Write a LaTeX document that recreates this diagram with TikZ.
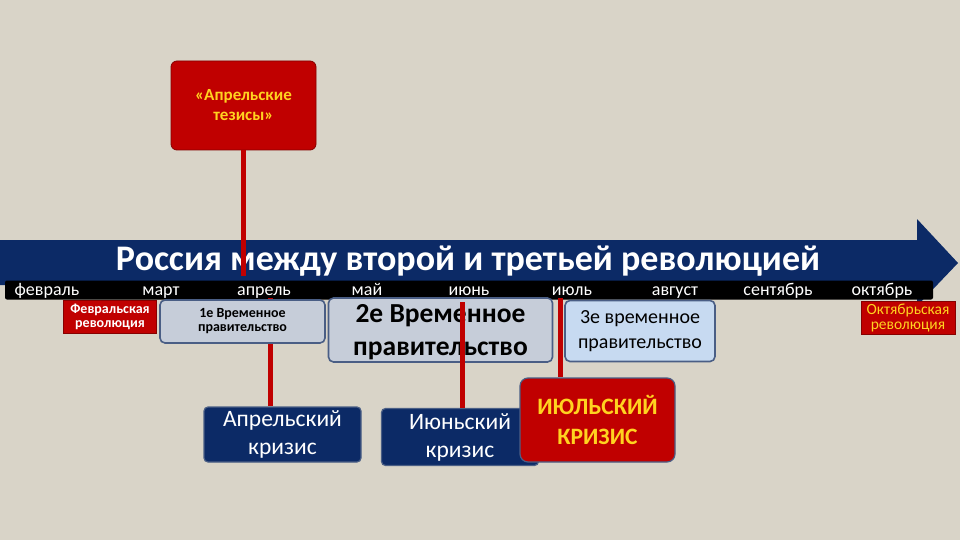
\documentclass[tikz,border=0pt]{standalone}
\usepackage{fontspec}
\setmainfont{Carlito}
\usetikzlibrary{shapes, positioning, calc}
\definecolor{bgc}{HTML}{D9D4C8}
\definecolor{navy}{HTML}{0C2A66}
\definecolor{darkred}{HTML}{C00000}
\definecolor{yel}{HTML}{FFD320}
\definecolor{govfill}{HTML}{C6CDD9}
\definecolor{govline}{HTML}{4A5E85}
\definecolor{gov3fill}{HTML}{C7DAF1}

\begin{document}
\begin{tikzpicture}[x=1pt, y=-1pt,
            mon/.style={text=white, font=\fontsize{18}{18}\selectfont, inner sep=0pt, anchor=base},
            rbox/.style={fill=darkred, draw=darkred!70!black, line width=0.8pt, align=center, inner sep=1pt},
            gbox/.style={fill=govfill, draw=govline, line width=1.6pt, rounded corners=5pt, align=center, inner sep=1pt},
            kbox/.style={fill=navy, draw=govline, line width=1.2pt, rounded corners=4pt, align=center, text=white,
                font=\fontsize{23.5}{28}\selectfont, minimum width=157pt},
            rl/.style={draw=darkred, line width=5pt}]
            % background and arrow
            \fill[bgc] (0,0) rectangle (960,540);
            \fill[navy] (0,240) -- (917,240) -- (917,219) -- (958,263) -- (917,306) -- (917,285) -- (0,285) -- cycle;
            \node[text=white, font=\bfseries\fontsize{36}{36}\selectfont] (title) at (468,261) {Россия между второй и третьей революцией};
            \node[rbox, rounded corners=6pt, minimum width=145pt, minimum height=89pt, text=yel,
                font=\bfseries\fontsize{17}{20}\selectfont] (tez) at (243.5,105.5) {«Апрельские\\тезисы»};
            \draw[rl] (tez.south) -- ($(tez.south |- title.center)+(0,15)$);
            % month bar
            \node[fill=black, rounded corners=2pt, minimum width=928pt, minimum height=19pt, inner sep=0pt] (bar) at (469,290) {};
            \foreach \m/\x in {февраль/47, март/161, апрель/264, май/367, июнь/469,
                    июль/572, август/675, сентябрь/778, октябрь/882}
                \node[mon] (m-\x) at (\x,295) {\m};
            \coordinate (c2) at (270,298);
            \coordinate (c4) at (560,298);
            \node[kbox, minimum height=55pt] (kapr) at (282.5,434.5) {Апрельский\\кризис};
            \draw[rl] (c2) -- (c2 |- kapr.north);
            % governments
            \node[rbox, minimum width=93pt, minimum height=33pt, text=white,
                font=\bfseries\fontsize{14}{14}\selectfont] (fev) at (110,317) {Февральская\\революция};
            \node[gbox, minimum width=165pt, minimum height=43pt,
                font=\bfseries\fontsize{14}{14}\selectfont] (g1) at (242.5,321.5) {1е Временное\\правительство};
            \node[gbox, minimum width=224pt, minimum height=64pt, text depth=0pt,
                font=\bfseries\fontsize{27.5}{33}\selectfont] (g2) at (440.5,330) {2е Временное\\правительство};
            \node[gbox, fill=gov3fill, minimum width=150pt, minimum height=61pt,
                font=\fontsize{20}{25}\selectfont] (g3) at (640,331) {3е временное\\правительство};
            \node[rbox, minimum width=94pt, minimum height=33pt, text=yel,
                font=\fontsize{15.5}{15}\selectfont] (okt) at (908,318) {Октябрьская\\революция};
            % crises
            \coordinate (c3) at (462,302);
            \node[kbox, minimum height=57pt] (kjun) at (460,437) {Июньский\\кризис};
            \draw[rl] (c3) -- (c3 |- kjun.north);
            \node[kbox, fill=darkred, text=yel, minimum width=155pt, minimum height=84pt, rounded corners=8pt,
                font=\bfseries\fontsize{23.5}{30}\selectfont] (kjul) at (597.5,420) {ИЮЛЬСКИЙ\\КРИЗИС};
            \draw[rl] (c4) -- (c4 |- kjul.north);
        \end{tikzpicture}
\end{document}
